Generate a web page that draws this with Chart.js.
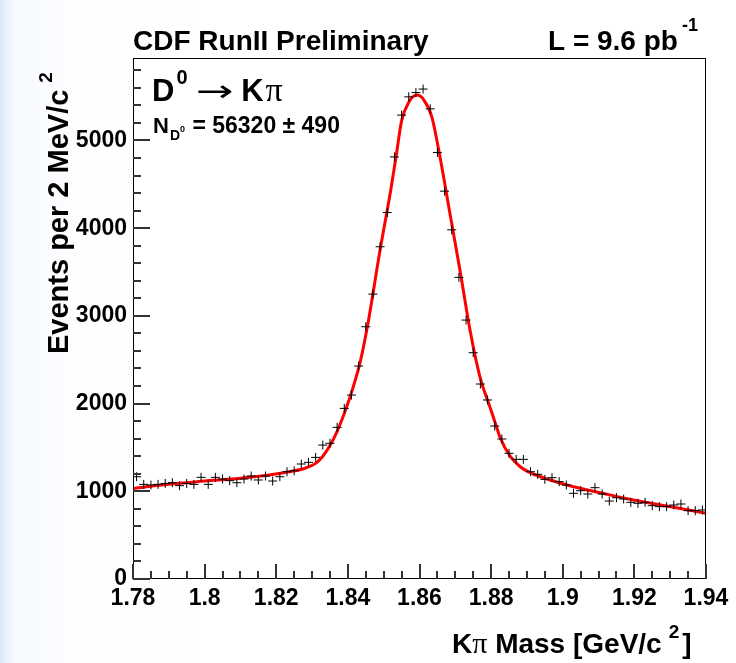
<!DOCTYPE html>
<html>
<head>
<meta charset="utf-8">
<script src="https://cdn.jsdelivr.net/npm/chart.js@4.4.0/dist/chart.umd.min.js"></script>
<style>
  html, body { margin: 0; padding: 0; }
  body {
    width: 736px; height: 663px; overflow: hidden;
    background: linear-gradient(90deg, #dde7f8 0px, #eaf0fb 6px, #f6f9fe 14px, #fcfdff 60px, #ffffff 200px);
  }
  canvas { display: block; }
</style>
</head>
<body>
<canvas id="massChart" width="736" height="663"></canvas>
<script>
// histogram: 80 bins of 2 MeV from 1.78 to 1.94 GeV/c^2
const binLow = 1.78;
const binWidth = 0.002;
const binCounts = [
  1166, 1079, 1071, 1079, 1090, 1098, 1064, 1090, 1079, 1159,
  1079, 1159, 1140, 1121, 1098, 1140, 1174, 1129, 1174, 1117,
  1166, 1223, 1234, 1311, 1330, 1387, 1527, 1547, 1729, 1945,
  2097, 2428, 2876, 3248, 3788, 4178, 4812, 5289, 5497, 5546,
  5586, 5360, 4863, 4422, 3981, 3439, 2952, 2580, 2223, 2041,
  1744, 1596, 1433, 1364, 1364, 1223, 1193, 1136, 1155, 1110,
  1071, 977, 1007, 969, 1041, 969, 889, 927, 912, 874,
  863, 874, 836, 825, 825, 844, 855, 779, 779, 787
];

// fit curve
const fitMass = [
  1.780, 1.790, 1.800, 1.810, 1.818, 1.824, 1.828, 1.831, 1.833, 1.835,
  1.837, 1.839, 1.8415, 1.8435, 1.8455, 1.849, 1.852, 1.8535, 1.855, 1.857,
  1.8593, 1.8611, 1.8634, 1.8657, 1.8685, 1.8713, 1.8741, 1.8769, 1.8797, 1.8816,
  1.8825, 1.8853, 1.8881, 1.8909, 1.8965, 1.903, 1.9104, 1.9197, 1.929, 1.940
];
const fitEvents = [
  1034, 1081, 1116, 1149, 1185, 1225, 1263, 1318, 1400, 1521,
  1684, 1886, 2191, 2485, 2890, 3753, 4442, 4828, 5223, 5436,
  5517, 5467, 5274, 4817, 4168, 3519, 2840, 2302, 1957, 1724,
  1613, 1400, 1280, 1212, 1129, 1052, 984, 901, 832, 750
];

const xTicks = [1.78, 1.80, 1.82, 1.84, 1.86, 1.88, 1.90, 1.92, 1.94];
const yTicks = [0, 1000, 2000, 3000, 4000, 5000];
const xMin = 1.78, xMax = 1.94, yMax = 5940;

const FONT = '"Liberation Sans", Arial, sans-serif';

// draw a row of text pieces; dx/dy shift one piece, sx stretches it
function drawRuns(ctx, x, y, runs) {
  runs.forEach(r => {
    ctx.font = r.f;
    const sx = r.sx || 1;
    x += r.dx || 0;
    ctx.save();
    ctx.translate(x, y + (r.dy || 0));
    ctx.scale(sx, 1);
    ctx.fillText(r.t, 0, 0);
    ctx.restore();
    x += ctx.measureText(r.t).width * sx;
  });
  return x;
}

const frameAndText = {
  id: 'frameAndText',
  beforeDraw(chart) {
    const { ctx, chartArea: a } = chart;
    ctx.save();
    ctx.fillStyle = '#ffffff';
    ctx.fillRect(a.left, a.top, a.width, a.height);
    ctx.restore();
  },
  afterDraw(chart) {
    const { ctx, chartArea: a } = chart;
    const xs = chart.scales.x, ys = chart.scales.y;
    ctx.save();
    ctx.fillStyle = '#000';
    // frame
    ctx.fillRect(a.left, a.top, a.width, 1);
    ctx.fillRect(a.left, a.bottom - 1, a.width, 1);
    ctx.fillRect(a.left, a.top, 1, a.height);
    ctx.fillRect(a.right - 1, a.top, 1, a.height);

    // ticks inside the frame, ROOT style
    ctx.fillStyle = '#333333';
    for (let v = 0; v <= yMax; v += 200) {
      const py = Math.round(ys.getPixelForValue(v));
      const len = v % 1000 === 0 ? 17 : 8;
      ctx.fillRect(a.left, py - 1, len, 2);
    }
    for (let i = 0; i <= 32; i++) {
      const px = Math.round(xs.getPixelForValue(xMin + i * 0.005));
      const len = i % 4 === 0 ? 15 : 8;
      ctx.fillRect(px - 1, a.bottom - len, 2, len);
    }

    ctx.fillStyle = '#000';
    ctx.textBaseline = 'alphabetic';
    ctx.textAlign = 'left';

    // header
    drawRuns(ctx, 133, 50, [{ t: 'CDF RunII Preliminary', f: 'bold 28px ' + FONT }]);
    drawRuns(ctx, 548, 50, [
      { t: 'L = 9.6 pb', f: 'bold 28px ' + FONT },
      { t: '-1', f: 'bold 18px ' + FONT, dx: 4, dy: -19 }
    ]);

    // decay label
    drawRuns(ctx, 152, 101, [
      { t: 'D', f: 'bold 31px ' + FONT },
      { t: '0', f: 'bold 20px ' + FONT, dx: 2, dy: -17 },
      { t: '\u2192', f: '30px "DejaVu Sans"', dx: 8, sx: 1.5 },
      { t: 'K', f: 'bold 31px ' + FONT, dx: 8 },
      { t: '\u03c0', f: '34px "Liberation Serif"', dx: 2 }
    ]);
    drawRuns(ctx, 153, 133, [
      { t: 'N', f: 'bold 22px ' + FONT },
      { t: 'D', f: 'bold 14px ' + FONT, dx: 1, dy: 7 },
      { t: '0', f: 'bold 9px ' + FONT, dy: -1 },
      { t: ' = 56320 \u00b1 490', f: 'bold 23px ' + FONT, dx: 1 }
    ]);

    // x axis title
    drawRuns(ctx, 452, 653, [
      { t: 'K', f: 'bold 28px ' + FONT },
      { t: '\u03c0', f: '30px "Liberation Serif"' },
      { t: ' Mass [GeV/c', f: 'bold 28px ' + FONT },
      { t: '2', f: 'bold 19px ' + FONT, dx: 7, dy: -15 },
      { t: ']', f: 'bold 28px ' + FONT, dx: 3 }
    ]);

    // y axis title
    ctx.translate(68, 354);
    ctx.rotate(-Math.PI / 2);
    drawRuns(ctx, 0, 0, [
      { t: 'Events per 2 MeV/c', f: 'bold 29px ' + FONT },
      { t: '2', f: 'bold 19px ' + FONT, dx: 7, dy: -16 }
    ]);
    ctx.restore();
  }
};

const histPoints = binCounts.map((c, i) => ({ x: binLow + binWidth * (i + 0.5), y: c }));
const fitPoints = fitMass.map((m, i) => ({ x: m, y: fitEvents[i] }));

const ctx = document.getElementById('massChart');
const chart = new Chart(ctx, {
  type: 'scatter',
  data: {
    datasets: [
      {
        label: 'Data',
        data: histPoints,
        pointStyle: 'cross',
        pointRadius: 4.5,
        borderColor: '#000',
        borderWidth: 1,
        order: 0
      },
      {
        label: 'Fit',
        data: fitPoints,
        showLine: true,
        pointRadius: 0,
        borderColor: '#ff0000',
        borderWidth: 3,
        cubicInterpolationMode: 'monotone',
        order: 1
      }
    ]
  },
  options: {
    responsive: false,
    animation: false,
    devicePixelRatio: 1,
    layout: { padding: { left: 0, top: 58, right: 30, bottom: 0 } },
    plugins: {
      legend: { display: false },
      tooltip: { enabled: false }
    },
    scales: {
      x: {
        type: 'linear',
        min: xMin,
        max: xMax,
        grid: { display: false, drawTicks: false },
        border: { display: false },
        afterBuildTicks: axis => { axis.ticks = xTicks.map(v => ({ value: v })); },
        afterFit: axis => { axis.height = 84; },
        ticks: {
          color: '#000',
          padding: 6,
          maxRotation: 0,
          font: { family: FONT, size: 23, weight: 'bold' },
          callback: v => String(+v.toFixed(2))
        }
      },
      y: {
        type: 'linear',
        min: 0,
        max: yMax,
        grid: { display: false, drawTicks: false },
        border: { display: false },
        afterBuildTicks: axis => { axis.ticks = yTicks.map(v => ({ value: v })); },
        afterFit: axis => { axis.width = 133; },
        ticks: {
          color: '#000',
          padding: 6,
          font: { family: FONT, size: 23, weight: 'bold' },
          callback: v => String(v)
        }
      }
    }
  },
  plugins: [frameAndText]
});
</script>
</body>
</html>
